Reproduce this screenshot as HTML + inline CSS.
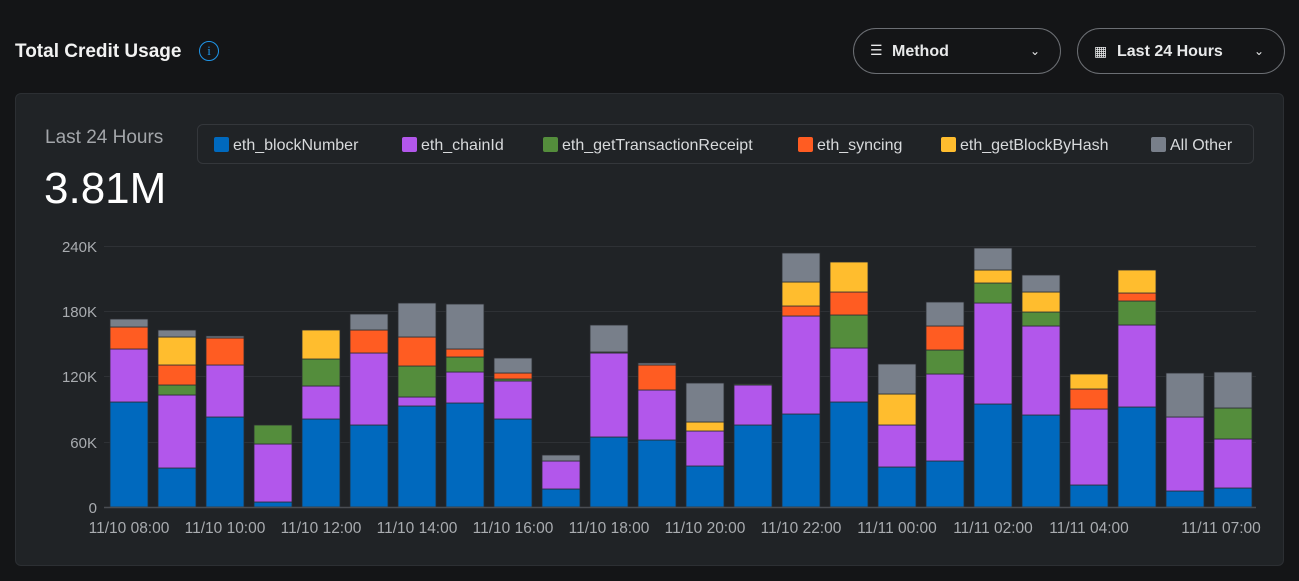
<!DOCTYPE html>
<html><head><meta charset="utf-8"><style>
body{margin:0;width:1299px;height:581px;background:#141517;font-family:"Liberation Sans",sans-serif;overflow:hidden;position:relative;color:#fff}
.abs{position:absolute}
.btn{position:absolute;top:28px;height:46px;border:1px solid #6b6e73;border-radius:24px;box-sizing:border-box}
.btn span{position:absolute;top:14px;font-size:16px;font-weight:bold;color:#e8e9ea}
.card{position:absolute;left:15px;top:93px;width:1269px;height:473px;background:#202326;border:1px solid #2c2f33;border-radius:6px;box-sizing:border-box}
.leg{position:absolute;left:197px;top:124px;width:1057px;height:40px;border:1px solid #34373b;border-radius:6px;box-sizing:border-box}
.li{position:absolute;top:12px;font-size:16px;color:#d8dadc;white-space:nowrap}
.li i{display:inline-block;width:15px;height:15px;border-radius:2px;vertical-align:-2px;margin-right:4px}
</style></head><body>
<div class="abs" style="left:15px;top:41px;font-size:19px;font-weight:bold;color:#f2f2f2">Total Credit Usage</div>
<div class="abs" style="left:199px;top:41px;width:18px;height:18px;border:1.5px solid #1f95e8;border-radius:50%;color:#1f95e8;font-size:13px;text-align:center;line-height:18px;font-family:'Liberation Serif',serif">i</div>
<div class="btn" style="left:853px;width:208px"><span style="left:16px;font-weight:normal;font-size:14px;top:13px">☰</span><span style="left:38px">Method</span><span style="left:176px;font-weight:normal;font-size:12px;top:15px">&#8964;</span></div>
<div class="btn" style="left:1077px;width:208px"><span style="left:16px;font-weight:normal;font-size:14px;top:14px">▦</span><span style="left:39px">Last 24 Hours</span><span style="left:176px;font-weight:normal;font-size:12px;top:15px">&#8964;</span></div>
<div class="card"></div>
<div class="abs" style="left:45px;top:127px;font-size:19px;color:#a3a6aa">Last 24 Hours</div>
<div class="abs" style="left:44px;top:164px;font-size:44px;color:#fff">3.81M</div>
<div class="leg">
<div class="li" style="left:16px"><i style="background:#0069be"></i>eth_blockNumber</div>
<div class="li" style="left:204px"><i style="background:#b257eb"></i>eth_chainId</div>
<div class="li" style="left:345px"><i style="background:#548d3c"></i>eth_getTransactionReceipt</div>
<div class="li" style="left:600px"><i style="background:#ff5c22"></i>eth_syncing</div>
<div class="li" style="left:743px"><i style="background:#ffbd2e"></i>eth_getBlockByHash</div>
<div class="li" style="left:953px"><i style="background:#787f8a"></i>All Other</div>
</div>
<svg class="abs" style="left:0;top:0" width="1299" height="581" id="s">
<g stroke="#2e3135" stroke-width="1">
<line x1="104" x2="1256" y1="246.5" y2="246.5"/><line x1="104" x2="1256" y1="311.5" y2="311.5"/>
<line x1="104" x2="1256" y1="376.5" y2="376.5"/><line x1="104" x2="1256" y1="442.5" y2="442.5"/>
</g>
<g font-size="15" fill="#a9acb0" text-anchor="end" font-family="Liberation Sans">
<text x="97" y="252">240K</text><text x="97" y="317">180K</text><text x="97" y="382">120K</text><text x="97" y="448">60K</text><text x="97" y="513">0</text>
</g>
<g id="bars" stroke="#2a2d31" stroke-width="0.8"></g>
<line x1="104" x2="1256" y1="507.5" y2="507.5" stroke="#4a4d52" stroke-width="1.5"/>
<g font-size="15.5" fill="#a9acb0" text-anchor="middle" font-family="Liberation Sans">
<text x="129" y="533">11/10 08:00</text><text x="225" y="533">11/10 10:00</text><text x="321" y="533">11/10 12:00</text>
<text x="417" y="533">11/10 14:00</text><text x="513" y="533">11/10 16:00</text><text x="609" y="533">11/10 18:00</text>
<text x="705" y="533">11/10 20:00</text><text x="801" y="533">11/10 22:00</text><text x="897" y="533">11/11 00:00</text>
<text x="993" y="533">11/11 02:00</text><text x="1089" y="533">11/11 04:00</text><text x="1221" y="533">11/11 07:00</text>
</g>
</svg>
<script>
var C={b:"#0069be",p:"#b257eb",g:"#548d3c",o:"#ff5c22",y:"#ffbd2e",a:"#787f8a"};
var D=[
[["b",402],["p",349],["o",327],["a",319]],
[["b",468],["p",395],["g",385],["o",365],["y",337],["a",330]],
[["b",417],["p",365],["o",338],["a",336]],
[["b",502],["p",444],["g",425]],
[["b",419],["p",386],["g",359],["y",330]],
[["b",425],["p",353],["o",330],["a",314]],
[["b",406],["p",397],["g",366],["o",337],["a",303]],
[["b",403],["p",372],["g",357],["o",349],["a",304]],
[["b",419],["p",381],["g",379],["o",373],["a",358]],
[["b",489],["p",461],["a",455]],
[["b",437],["p",353],["g",352],["a",325]],
[["b",440],["p",390],["o",365],["a",363]],
[["b",466],["p",431],["y",422],["a",383]],
[["b",425],["p",385],["g",384]],
[["b",414],["p",316],["o",306],["y",282],["a",253]],
[["b",402],["p",348],["g",315],["o",292],["y",262]],
[["b",467],["p",425],["y",394],["a",364]],
[["b",461],["p",374],["g",350],["o",326],["a",302]],
[["b",404],["p",303],["g",283],["y",270],["a",248]],
[["b",415],["p",326],["g",312],["y",292],["a",275]],
[["b",485],["p",409],["o",389],["y",374]],
[["b",407],["p",325],["g",301],["o",293],["y",270]],
[["b",491],["p",417],["a",373]],
[["b",488],["p",439],["g",408],["a",372]]];
var h="";D.forEach(function(bar,i){var x=110+48*i,prev=507;bar.forEach(function(s){h+='<rect x="'+x+'" y="'+s[1]+'" width="38" height="'+(prev-s[1])+'" fill="'+C[s[0]]+'"/>';prev=s[1];});});
document.getElementById("bars").innerHTML=h;
</script>
</body></html>
